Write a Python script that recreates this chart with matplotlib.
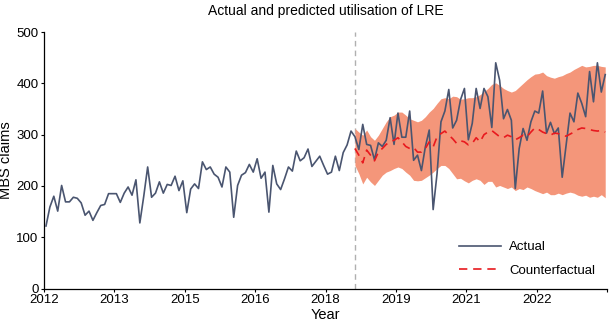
###########################################
# ----- Actual vs predicted LRE claims ----- #
###########################################
import numpy as np
import matplotlib
matplotlib.use("Agg")
from matplotlib import pyplot as plt

# ----- monthly MBS claims, Jan 2012 - Dec 2023 ----- #
actual = [122, 159, 180, 151, 201, 169, 169, 178, 176, 167, 143, 151,
          133, 148, 162, 164, 185, 185, 185, 168, 186, 198, 182, 212,
          128, 180, 237, 178, 186, 208, 186, 203, 201, 219, 191, 210,
          148, 194, 204, 195, 247, 232, 237, 223, 217, 198, 237, 227,
          139, 201, 221, 226, 242, 227, 253, 215, 227, 149, 240, 204,
          193, 214, 237, 229, 268, 249, 255, 272, 238, 248, 258, 240,
          223, 227, 258, 230, 265, 280, 307, 296, 271, 320, 281, 279,
          251, 284, 277, 289, 333, 281, 342, 295, 295, 346, 250, 260,
          230, 276, 309, 154, 224, 325, 346, 388, 313, 328, 368, 390,
          290, 322, 390, 351, 390, 374, 314, 440, 406, 331, 349, 328,
          195, 273, 312, 289, 325, 346, 342, 385, 303, 324, 302, 313,
          217, 279, 342, 325, 381, 361, 335, 423, 364, 440, 383, 417]

# ----- counterfactual forecast from Aug 2018 (index 79) ----- #
start = 79
counterfactual = [273, 260, 245, 270, 260, 249, 266, 273, 281, 286, 289, 294,
                  286, 277, 273, 275, 266, 266, 273, 286, 276, 296, 302, 307,
                  299, 292, 283, 288, 286, 280, 283, 294, 286, 300, 305, 308,
                  302, 296, 294, 299, 296, 290, 294, 299, 296, 305, 313, 310,
                  305, 302, 299, 303, 302, 299, 297, 301, 305, 310, 313, 312,
                  310, 308, 307, 308, 305]
upper = [312, 305, 299, 309, 296, 289, 299, 312, 325, 335, 338, 344,
         344, 338, 331, 328, 325, 328, 335, 344, 351, 361, 370, 372,
         370, 375, 374, 369, 370, 372, 372, 374, 378, 384, 390, 398,
         401, 396, 390, 386, 383, 386, 393, 400, 407, 413, 418, 419,
         422, 415, 412, 410, 413, 415, 419, 422, 427, 431, 435, 432,
         433, 435, 435, 433, 432]
lower = [240, 224, 204, 217, 208, 201, 211, 221, 227, 230, 234, 237,
         234, 227, 221, 211, 210, 211, 216, 221, 227, 234, 240, 240,
         234, 224, 214, 215, 210, 206, 211, 214, 211, 203, 209, 209,
         198, 201, 198, 195, 198, 191, 195, 193, 198, 195, 191, 188,
         185, 188, 183, 183, 186, 183, 186, 188, 186, 182, 180, 182,
         178, 180, 178, 183, 177]

tick_labels = ["2012", "2013", "2015", "2016", "2018", "2019", "2021", "2022", ""]

# ----- colours ----- #
col_actual = "#4a5570"
col_band = "#f4967a"
col_cf = "#e8191e"

plt.rcParams['font.family'] = ['Liberation Sans', 'DejaVu Sans']

###########################################
fig = plt.figure(figsize=(6.09, 3.25), dpi=100)
ax = fig.add_axes([0.0723, 0.112, 0.9247, 0.7895])

x = np.arange(len(actual))
xf = np.arange(start, start + len(counterfactual))

ax.fill_between(xf, lower, upper, color=col_band, linewidth=0, zorder=1)
ax.axvline(start, color="#b0b0b0", linestyle=(0, (4, 3)), linewidth=1.0, zorder=0)
ax.plot(x, actual, color=col_actual, linewidth=1.2, label="Actual", zorder=3)
ax.plot(xf, counterfactual, color=col_cf, linewidth=1.2,
        linestyle=(0, (5, 3.5)), label="Counterfactual", zorder=4)

# ----- axes ----- #
ax.set_xlim(-0.5, 143.5)
ax.set_ylim(0, 500)
ax.set_xticks(np.arange(-0.5, 144, 18))
ax.set_xticklabels(tick_labels)
ax.set_yticks(range(0, 501, 100))
ax.tick_params(labelsize=9.5, length=2.5, width=0.8, pad=1.5)
for s in ["top", "right"]:
	ax.spines[s].set_visible(False)
for s in ["left", "bottom"]:
	ax.spines[s].set_linewidth(0.9)

ax.set_xlabel("Year", fontsize=10.5, labelpad=1)
ax.set_ylabel("MBS claims", fontsize=10.5, labelpad=2)
ax.set_title("Actual and predicted utilisation of LRE", fontsize=10, pad=12)

ax.legend(loc="lower right", bbox_to_anchor=(1.0, 0.0), frameon=False,
          fontsize=9.5, handlelength=3.2, labelspacing=0.85, handletextpad=0.6)

fig.savefig("out.png", dpi=100)
